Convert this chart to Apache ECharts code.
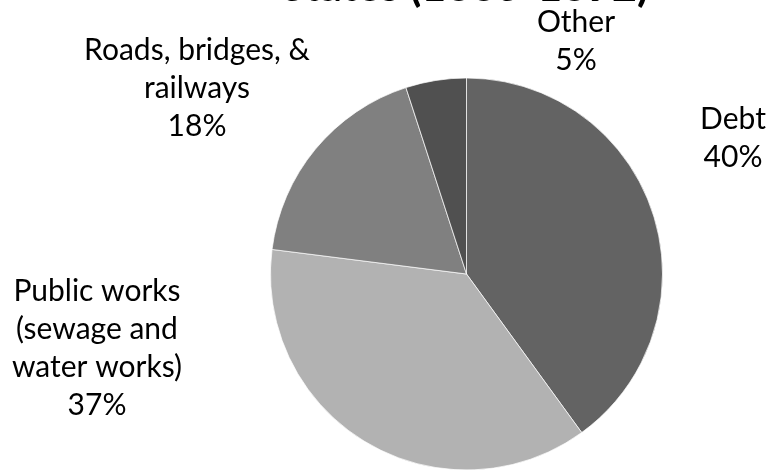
<!DOCTYPE html>
<html>
<head>
<meta charset="utf-8">
<script src="https://cdn.jsdelivr.net/npm/echarts@6/dist/echarts.min.js"></script>
<style>
  html, body { margin: 0; padding: 0; background: #fff; }
  #chart { width: 769px; height: 470px; }
</style>
</head>
<body>
<div id="chart"></div>
<script>
const titleText = 'States (1885-1892)';
const categories = ['Debt', 'Public works\n(sewage and\nwater works)', 'Roads, bridges, &\nrailways', 'Other'];
const values = [40, 37, 18, 5];
const sliceColors = ['#636363', '#b2b2b2', '#808080', '#505050'];

const labelPos = [[733, 138], [97, 348], [197, 88], [576, 41]];

const chart = echarts.init(document.getElementById('chart'), null, { renderer: 'canvas' });
chart.setOption({
  animation: false,
  backgroundColor: '#ffffff',
  title: {
    text: titleText,
    left: 465,
    textAlign: 'center',
    top: -34,
    padding: 0,
    textStyle: { fontFamily: 'Lato', fontWeight: 'bold', fontSize: 43, color: '#000' }
  },
  series: [{
    type: 'pie',
    center: [466.5, 274],
    radius: 196,
    startAngle: 90,
    clockwise: true,
    data: categories.map((c, i) => ({ name: c, value: values[i], itemStyle: { color: sliceColors[i] } })),
    itemStyle: { borderColor: '#ffffff', borderWidth: 0.7 },
    emphasis: { disabled: true },
    label: {
      show: true,
      position: 'outside',
      alignTo: 'none',
      overflow: 'none',
      formatter: p => p.name + '\n' + Math.round(p.percent) + '%',
      fontFamily: 'Lato',
      fontSize: 30,
      lineHeight: 38,
      color: '#000',
      align: 'center'
    },
    labelLine: { show: false },
    labelLayout: function (params) {
      const p = labelPos[params.dataIndex];
      return { x: p[0], y: p[1], align: 'center', verticalAlign: 'middle' };
    }
  }]
});
</script>
</body>
</html>
